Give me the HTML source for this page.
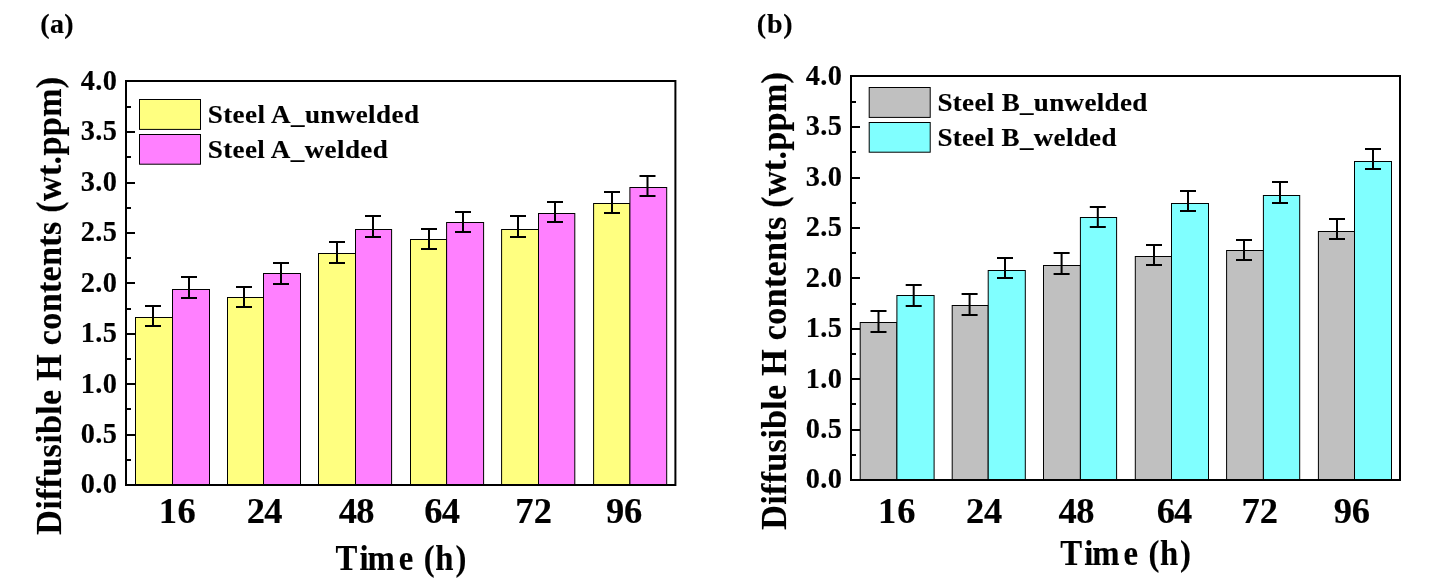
<!DOCTYPE html>
<html lang="en">
<head>
<meta charset="utf-8">
<title>Diffusible H contents</title>
<style>
html,body{margin:0;padding:0;background:#fff}
body{width:1429px;height:588px;overflow:hidden}
svg{display:block}
text{font-family:'Liberation Serif','Times New Roman',Times,serif;font-weight:bold;fill:#000;stroke:#000;stroke-width:.15px;white-space:pre}
.bar{stroke:#000;stroke-width:1}
.ln{stroke:#000;stroke-width:2;fill:none}
</style>
</head>
<body>
<svg width="1429" height="588" viewBox="0 0 1429 588">
<rect width="1429" height="588" fill="#fff"/>
<g id="chart-a">
<rect class="bar" x="135.5" y="317.5" width="37" height="167.5" fill="#FFFF80"/>
<rect class="bar" x="172.5" y="289.5" width="37" height="195.5" fill="#FF80FF"/>
<rect class="bar" x="227.5" y="297.5" width="36" height="187.5" fill="#FFFF80"/>
<rect class="bar" x="263.5" y="273.5" width="37" height="211.5" fill="#FF80FF"/>
<rect class="bar" x="318.5" y="253.5" width="37" height="231.5" fill="#FFFF80"/>
<rect class="bar" x="355.5" y="229.5" width="36.1" height="255.5" fill="#FF80FF"/>
<rect class="bar" x="410.5" y="239.5" width="36.1" height="245.5" fill="#FFFF80"/>
<rect class="bar" x="446.6" y="222.5" width="37" height="262.5" fill="#FF80FF"/>
<rect class="bar" x="501.6" y="229.5" width="36.9" height="255.5" fill="#FFFF80"/>
<rect class="bar" x="538.5" y="213.5" width="36.3" height="271.5" fill="#FF80FF"/>
<rect class="bar" x="593.6" y="203.5" width="36.3" height="281.5" fill="#FFFF80"/>
<rect class="bar" x="629.9" y="187.5" width="36.8" height="297.5" fill="#FF80FF"/>
<path class="ln" d="M145 306h16M145 326h16M153 306V326M181 277h16M181 298h16M189 277V298M236 287h16M236 307h16M244 287V307M273 263h16M273 284h16M281 263V284M329 242h16M329 263h16M337 242V263M365 216h16M365 237h16M373 216V237M421 229h16M421 249h16M429 229V249M455 212h16M455 232h16M463 212V232M510 216h16M510 237h16M518 216V237M547 202h16M547 222h16M555 202V222M604 192h16M604 213h16M612 192V213M639.5 176h16M639.5 196h16M647.5 176V196"/>
<path class="ln" d="M126 460h5M126 435h9M126 409h5M126 384h9M126 359h5M126 334h9M126 309h5M126 283h9M126 258h5M126 233h9M126 208h5M126 183h9M126 157h5M126 132h9M126 107h5"/>
<rect class="ln" x="126" y="81" width="549.4" height="404"/>
<rect class="bar" x="139.5" y="99.5" width="61" height="29.9" fill="#FFFF80"/>
<rect class="bar" x="139.5" y="134.5" width="61" height="29.7" fill="#FF80FF"/>
</g>
<g id="chart-b">
<rect class="bar" x="860.2" y="322.5" width="36.7" height="157.5" fill="#C0C0C0"/>
<rect class="bar" x="896.9" y="295.5" width="37.2" height="184.5" fill="#80FFFF"/>
<rect class="bar" x="952.2" y="305.5" width="36" height="174.5" fill="#C0C0C0"/>
<rect class="bar" x="988.2" y="270.5" width="37.1" height="209.5" fill="#80FFFF"/>
<rect class="bar" x="1043.5" y="265.5" width="36.9" height="214.5" fill="#C0C0C0"/>
<rect class="bar" x="1080.4" y="217.5" width="36.2" height="262.5" fill="#80FFFF"/>
<rect class="bar" x="1135.3" y="256.5" width="36.2" height="223.5" fill="#C0C0C0"/>
<rect class="bar" x="1171.5" y="203.5" width="37" height="276.5" fill="#80FFFF"/>
<rect class="bar" x="1226.6" y="250.5" width="36.8" height="229.5" fill="#C0C0C0"/>
<rect class="bar" x="1263.4" y="195.5" width="36.3" height="284.5" fill="#80FFFF"/>
<rect class="bar" x="1318.4" y="231.5" width="36.1" height="248.5" fill="#C0C0C0"/>
<rect class="bar" x="1354.5" y="161.5" width="37" height="318.5" fill="#80FFFF"/>
<path class="ln" d="M870.5 311h16M870.5 332h16M878.5 311V332M905.7 285h16M905.7 306h16M913.7 285V306M961.6 294h16M961.6 315h16M969.6 294V315M997 258h16M997 278h16M1005 258V278M1053.6 253h16M1053.6 274h16M1061.6 253V274M1089.8 207h16M1089.8 227h16M1097.8 207V227M1146 245h16M1146 265h16M1154 245V265M1180 191h16M1180 211h16M1188 191V211M1236 240h16M1236 260h16M1244 240V260M1272 182h16M1272 203h16M1280 182V203M1329 219h16M1329 239h16M1337 219V239M1365 149h16M1365 169h16M1373 149V169"/>
<path class="ln" d="M851 455h5M851 430h9M851 404h5M851 379h9M851 354h5M851 329h9M851 304h5M851 278h9M851 253h5M851 228h9M851 203h5M851 178h9M851 152h5M851 127h9M851 102h5"/>
<rect class="ln" x="851" y="76" width="549" height="404"/>
<rect class="bar" x="869.2" y="87.5" width="61" height="29.9" fill="#C0C0C0"/>
<rect class="bar" x="869.2" y="122.5" width="61" height="29.7" fill="#80FFFF"/>
</g>
<g id="labels">
<text x="40.35" y="33" style="font-size:28px;letter-spacing:0.325px">(a)</text>
<text x="756.75" y="32.9" style="font-size:28px;letter-spacing:0.825px">(b)</text>
<text transform="translate(80.8 492.8) scale(0.955 1)" style="font-size:29.7px;letter-spacing:0.300px">0.0</text>
<text transform="translate(805.8 487.8) scale(0.955 1)" style="font-size:29.7px;letter-spacing:0.300px">0.0</text>
<text transform="translate(80.8 443) scale(0.955 1)" style="font-size:29.7px;letter-spacing:0.300px">0.5</text>
<text transform="translate(805.8 438) scale(0.955 1)" style="font-size:29.7px;letter-spacing:0.300px">0.5</text>
<text transform="translate(80.8 392.6) scale(0.955 1)" style="font-size:29.7px;letter-spacing:0.300px">1.0</text>
<text transform="translate(805.8 387.6) scale(0.955 1)" style="font-size:29.7px;letter-spacing:0.300px">1.0</text>
<text transform="translate(80.8 342) scale(0.955 1)" style="font-size:29.7px;letter-spacing:0.300px">1.5</text>
<text transform="translate(805.8 337) scale(0.955 1)" style="font-size:29.7px;letter-spacing:0.300px">1.5</text>
<text transform="translate(80.8 291.8) scale(0.955 1)" style="font-size:29.7px;letter-spacing:0.300px">2.0</text>
<text transform="translate(805.8 286.8) scale(0.955 1)" style="font-size:29.7px;letter-spacing:0.300px">2.0</text>
<text transform="translate(80.8 241.1) scale(0.955 1)" style="font-size:29.7px;letter-spacing:0.300px">2.5</text>
<text transform="translate(805.8 236.1) scale(0.955 1)" style="font-size:29.7px;letter-spacing:0.300px">2.5</text>
<text transform="translate(80.8 190.9) scale(0.955 1)" style="font-size:29.7px;letter-spacing:0.300px">3.0</text>
<text transform="translate(805.8 185.9) scale(0.955 1)" style="font-size:29.7px;letter-spacing:0.300px">3.0</text>
<text transform="translate(80.8 139.9) scale(0.955 1)" style="font-size:29.7px;letter-spacing:0.300px">3.5</text>
<text transform="translate(805.8 134.9) scale(0.955 1)" style="font-size:29.7px;letter-spacing:0.300px">3.5</text>
<text transform="translate(80.8 89.9) scale(0.955 1)" style="font-size:29.7px;letter-spacing:0.300px">4.0</text>
<text transform="translate(805.8 84.9) scale(0.955 1)" style="font-size:29.7px;letter-spacing:0.300px">4.0</text>
<text x="158.8" y="523.1" style="font-size:36.5px;letter-spacing:0.400px">16</text>
<text x="246.7" y="523.1" style="font-size:36.5px;letter-spacing:-0.650px">24</text>
<text x="338.75" y="523.1" style="font-size:36.5px;letter-spacing:-0.700px">48</text>
<text x="424.35" y="523.1" style="font-size:36.5px;letter-spacing:-0.800px">64</text>
<text x="515.2" y="523.1" style="font-size:36.5px;letter-spacing:0.300px">72</text>
<text x="606" y="523.1" style="font-size:36.5px;letter-spacing:-0.200px">96</text>
<text x="878" y="523.1" style="font-size:36.5px;letter-spacing:1.000px">16</text>
<text x="966" y="523.1" style="font-size:36.5px;letter-spacing:-0.250px">24</text>
<text x="1058.6" y="523.1" style="font-size:36.5px;letter-spacing:-0.650px">48</text>
<text x="1156.85" y="523.1" style="font-size:36.5px;letter-spacing:-1.100px">64</text>
<text x="1241.5" y="523.1" style="font-size:36.5px;letter-spacing:0.000px">72</text>
<text x="1333.75" y="523.1" style="font-size:36.5px;letter-spacing:-0.250px">96</text>
<text transform="translate(335.85 570.3) scale(0.900 1)" x="-0.4 26.26 35.24 70.03 86.18 97.69 110.57 132.85" y="0" style="font-size:36.4px">Time (h)</text>
<text transform="translate(1060.6 564.9) scale(0.900 1)" x="-0.51 26.15 35.13 69.92 86.07 97.58 110.46 132.74" y="0" style="font-size:36.4px">Time (h)</text>
<text transform="translate(61 534.71) rotate(-90) scale(0.940 1)" style="font-size:36.4px;letter-spacing:0.273px">Diffusible H contents (wt.ppm)</text>
<text transform="translate(786.3 529.71) rotate(-90) scale(0.940 1)" style="font-size:36.4px;letter-spacing:0.270px">Diffusible H contents (wt.ppm)</text>
<text transform="translate(207.74 122.9) scale(1.040 1)" style="font-size:26px;letter-spacing:0.396px">Steel A_unwelded</text>
<text transform="translate(207.74 157.9) scale(1.040 1)" style="font-size:26px;letter-spacing:0.373px">Steel A_welded</text>
<text transform="translate(937.39 111) scale(1.040 1)" style="font-size:26px;letter-spacing:0.316px">Steel B_unwelded</text>
<text transform="translate(937.39 146) scale(1.040 1)" style="font-size:26px;letter-spacing:0.303px">Steel B_welded</text>
</g>
</svg>
</body>
</html>
